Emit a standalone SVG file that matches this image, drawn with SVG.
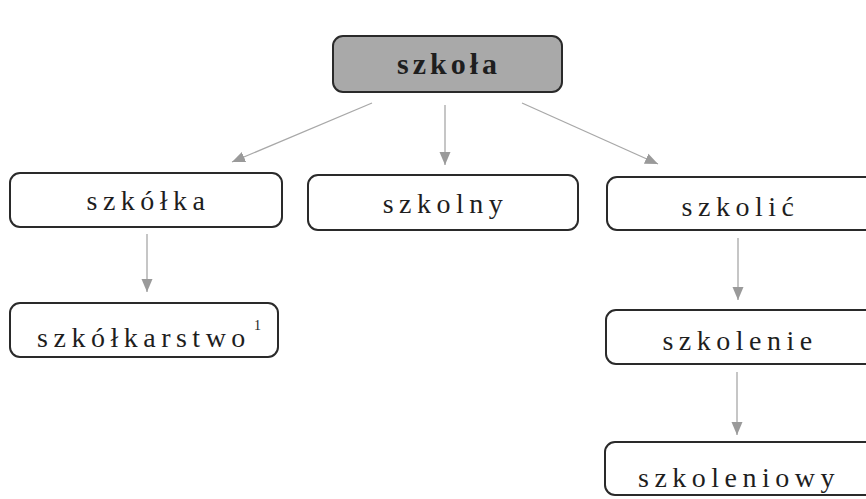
<svg xmlns="http://www.w3.org/2000/svg" width="866" height="499" viewBox="0 0 866 499">
<style>
.box{fill:#ffffff;stroke:#2a2a2a;stroke-width:2}
.root{fill:#a9a9a9;stroke:#2a2a2a;stroke-width:2}
.lbl{font-family:"Liberation Serif",serif;font-size:28px;letter-spacing:5.5px;fill:#1e1e1e;text-anchor:middle}
.rlbl{font-family:"Liberation Serif",serif;font-size:30px;font-weight:bold;letter-spacing:4px;fill:#1e1e1e;text-anchor:middle}
.sup{font-family:"Liberation Serif",serif;font-size:14px;fill:#1e1e1e}
.edge{stroke:#a8a8a8;stroke-width:1.3;fill:none;marker-end:url(#ah)}
</style>
<defs>
<marker id="ah" markerUnits="userSpaceOnUse" markerWidth="14" markerHeight="14" viewBox="0 0 14 14" refX="13" refY="7" orient="auto">
<path d="M0,1.5 L13,7 L0,12.5 Z" fill="#9a9a9a"/>
</marker>
</defs>
<rect width="866" height="499" fill="#ffffff"/>
<g id="connectors">
<line class="edge" x1="372" y1="103" x2="232" y2="162"/>
<line class="edge" x1="445" y1="105" x2="445" y2="165"/>
<line class="edge" x1="522" y1="103" x2="658" y2="164"/>
<line class="edge" x1="147" y1="234" x2="147" y2="292"/>
<line class="edge" x1="738" y1="238" x2="738" y2="300"/>
<line class="edge" x1="737" y1="372" x2="737" y2="435"/>
</g>
<g id="n-szkola">
<rect class="root" x="333" y="36" width="229" height="56" rx="10"/>
<text class="rlbl" x="449" y="74">szkoła</text>
</g>
<g id="n-szkolka">
<rect class="box" x="10" y="173" width="272" height="54" rx="10"/>
<text class="lbl" x="148.5" y="210">szkółka</text>
</g>
<g id="n-szkolny">
<rect class="box" x="308" y="175" width="270" height="55" rx="10"/>
<text class="lbl" x="445.5" y="213">szkolny</text>
</g>
<g id="n-szkolic">
<rect class="box" x="607" y="177" width="280" height="53" rx="10"/>
<text class="lbl" x="740.5" y="216">szkolić</text>
</g>
<g id="n-szkolkarstwo">
<rect class="box" x="10" y="303" width="268" height="54" rx="10"/>
<text class="lbl" x="144" y="347">szkółkarstwo</text>
<text class="sup" x="254" y="330">1</text>
</g>
<g id="n-szkolenie">
<rect class="box" x="606" y="310" width="280" height="54" rx="10"/>
<text class="lbl" x="740" y="350">szkolenie</text>
</g>
<g id="n-szkoleniowy">
<rect class="box" x="605" y="442" width="280" height="53" rx="10"/>
<text class="lbl" x="739" y="487">szkoleniowy</text>
</g>
</svg>
